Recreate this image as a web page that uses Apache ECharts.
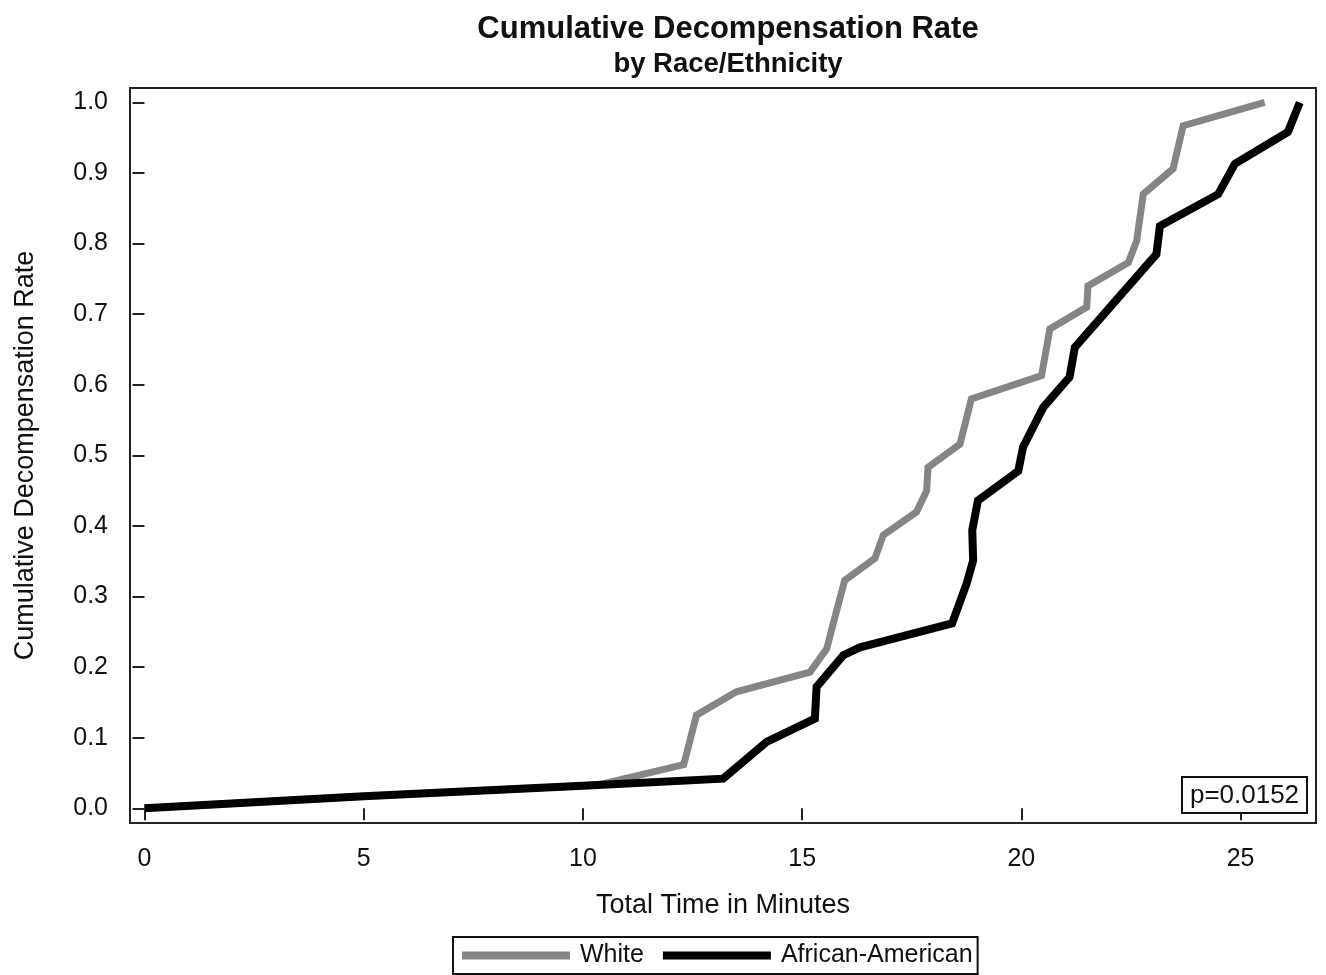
<!DOCTYPE html>
<html>
<head>
<meta charset="utf-8">
<script src="https://cdn.jsdelivr.net/npm/echarts@6/dist/echarts.min.js"></script>
<style>
html,body{margin:0;padding:0;background:#fff;}
#chart{width:1326px;height:975px;}
</style>
</head>
<body>
<div id="chart"></div>
<script>
// Data
const whiteX = [0, 5, 10, 10.4, 12.3, 12.59, 13.5, 15.18, 15.56, 15.71, 15.97, 16.66, 16.85, 17.61, 17.84, 17.87, 18.6, 18.86, 20.46, 20.65, 21.49, 21.52, 22.44, 22.63, 22.78, 23.46, 23.69, 25.55];
const whiteY = [0, 0.017, 0.032, 0.034, 0.062, 0.132, 0.165, 0.193, 0.226, 0.262, 0.323, 0.354, 0.387, 0.42, 0.45, 0.483, 0.516, 0.58, 0.613, 0.679, 0.71, 0.74, 0.773, 0.804, 0.87, 0.906, 0.967, 1.0];
const blackX = [0, 5, 10, 13.2, 14.19, 15.29, 15.33, 15.94, 16.32, 18.42, 18.75, 18.9, 18.88, 19.01, 19.93, 20.04, 20.5, 21.1, 21.22, 23.08, 23.16, 24.49, 24.87, 26.08, 26.35];
const blackY = [0, 0.017, 0.032, 0.042, 0.094, 0.127, 0.172, 0.217, 0.228, 0.262, 0.318, 0.351, 0.394, 0.436, 0.478, 0.512, 0.568, 0.611, 0.653, 0.785, 0.825, 0.87, 0.913, 0.958, 1.0];
const xTicks = [0, 5, 10, 15, 20, 25];
const yTicks = [0, 0.1, 0.2, 0.3, 0.4, 0.5, 0.6, 0.7, 0.8, 0.9, 1.0];
const seriesNames = ['White', 'African-American'];
const pValueText = 'p=0.0152';

const FONT = '"Liberation Sans", Arial, sans-serif';
const chart = echarts.init(document.getElementById('chart'), null, {renderer: 'canvas'});
const zip = (xs, ys) => xs.map((x, i) => [x, ys[i]]);

chart.setOption({
  animation: false,
  backgroundColor: '#fff',
  title: [
    {text: 'Cumulative Decompensation Rate', left: 723, top: 9, textAlign: 'center',
     textStyle: {fontFamily: FONT, fontSize: 31, fontWeight: 'bold', color: '#111'}},
    {text: 'by Race/Ethnicity', left: 723, top: 45, textAlign: 'center',
     textStyle: {fontFamily: FONT, fontSize: 27.5, fontWeight: 'bold', color: '#111'}}
  ],
  grid: {left: 130, top: 88, right: 10, bottom: 152, show: true, borderColor: '#222', borderWidth: 2, containLabel: false},
  xAxis: {
    type: 'value', min: -0.33, max: 26.72,
    name: 'Total Time in Minutes', nameLocation: 'middle', nameGap: 69,
    nameTextStyle: {fontFamily: FONT, fontSize: 27, color: '#111', verticalAlign: 'top'},
    axisLine: {show: false},
    splitLine: {show: false},
    axisTick: {show: true, length: 12, customValues: xTicks, lineStyle: {color: '#222', width: 2}},
    axisLabel: {customValues: xTicks, fontFamily: FONT, fontSize: 25, color: '#111', margin: 24}
  },
  yAxis: {
    type: 'value', min: -0.0208, max: 1.0204,
    name: 'Cumulative Decompensation Rate', nameLocation: 'middle', nameGap: 91,
    nameTextStyle: {fontFamily: FONT, fontSize: 27, color: '#111'},
    axisLine: {show: false},
    splitLine: {show: false},
    axisTick: {show: true, length: 12, customValues: yTicks, lineStyle: {color: '#222', width: 2}},
    axisLabel: {customValues: yTicks, formatter: v => v.toFixed(1), fontFamily: FONT, fontSize: 25, color: '#111', margin: 22}
  },
  legend: {
    left: 453, top: 937, orient: 'horizontal',
    borderColor: '#111', borderWidth: 2, padding: [6, 5, 6, 9],
    itemWidth: 108, itemHeight: 8, itemGap: 19, icon: 'rect',
    textStyle: {fontFamily: FONT, fontSize: 25, color: '#111', padding: [0, 0, 0, 5]},
    data: seriesNames
  },
  series: [
    {name: seriesNames[0], type: 'line', data: zip(whiteX, whiteY), showSymbol: false, symbol: 'none',
     color: '#858585', lineStyle: {color: '#858585', width: 7, join: 'miter'}, z: 2},
    {name: seriesNames[1], type: 'line', data: zip(blackX, blackY), showSymbol: false, symbol: 'none',
     color: '#000', lineStyle: {color: '#000', width: 8, join: 'miter'}, z: 3}
  ],
  graphic: [
    {type: 'rect', shape: {x: 1182, y: 777, width: 125, height: 36}, style: {fill: '#fff', stroke: '#111', lineWidth: 2}, z: 10},
    {type: 'text', x: 1244.5, y: 796, style: {text: pValueText, fontFamily: FONT, fontSize: 26, fill: '#111', align: 'center', verticalAlign: 'middle'}, z: 11}
  ]
});
</script>
</body>
</html>
